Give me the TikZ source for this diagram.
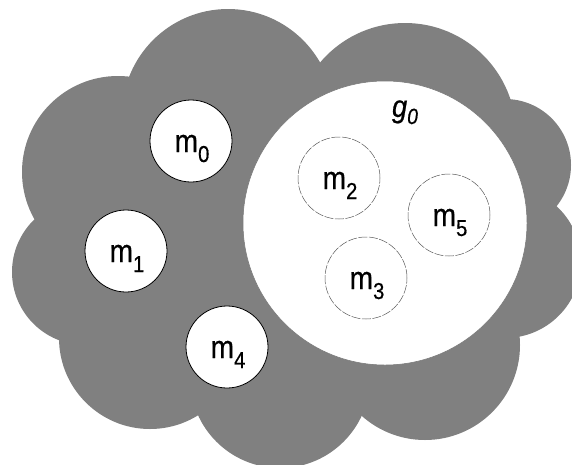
\documentclass[tikz,border=0pt]{standalone}
\usepackage{fontspec}
\newfontfamily\labfont[FakeStretch=0.88,FakeBold=0.6]{Liberation Sans}
\newcommand\mlab[1]{{\labfont\fontsize{32}{32}\selectfont m\lower 10pt\hbox{\fontsize{23}{23}\selectfont #1}}}
\newcommand\glab{{\labfont\fontsize{31}{31}\selectfont\itshape g\lower 7pt\hbox{\fontsize{22}{22}\selectfont 0}}}
\definecolor{cloudgray}{RGB}{128,128,128}
\tikzset{
  bump/.style={fill=cloudgray, draw=none},
  solidball/.style={circle, fill=white, draw=black, line width=0.8pt, minimum size=82pt, inner sep=0pt},
  dashball/.style={circle, fill=white, draw=black!65, line width=0.5pt, dash pattern=on 9pt off 1.5pt, minimum size=82pt, inner sep=0pt},
  bigball/.style={circle, fill=white, draw=black!55, line width=0.5pt, minimum size=284pt, inner sep=0pt},
  txt/.style={anchor=base, inner sep=0pt}
}
\begin{document}
\begin{tikzpicture}[x=1pt,y=-1pt]
\useasboundingbox (0,0) rectangle (572,464);
\clip (0,0) rectangle (572,464);
% cloud made of overlapping bumps
\fill[bump] (118,172) circle (96);
\fill[bump] (228,115) circle (106);
\fill[bump] (405,134) circle (111);
\fill[bump] (505,165) circle (66);
\fill[bump] (505,262) circle (76);
\fill[bump] (425,345) circle (95);
\fill[bump] (280,378) circle (90);
\fill[bump] (150,338) circle (91);
\fill[bump] (85,272) circle (73);
\fill[bump] (118,172) -- (228,115) -- (405,134) -- (505,165) -- (505,262) -- (425,345) -- (280,378) -- (150,338) -- (85,272) -- cycle;
% big group g0
\node[bigball] (g0) at (385,223) {};
\node[txt] (g0t) at (405,117) {\glab};
% members outside
\node[solidball] (m0) at (191,141) {};
\node[solidball] (m1) at (126,251) {};
\node[solidball] (m4) at (227,347) {};
% members inside
\node[dashball] (m2) at (339,178) {};
\node[dashball] (m5) at (449,215) {};
\node[dashball] (m3) at (366,278) {};
% labels
\node[txt] (m0t) at ([shift={(1,11)}]m0.center) {\mlab{0}};
\node[txt] (m1t) at ([shift={(1,11)}]m1.center) {\mlab{1}};
\node[txt] (m4t) at ([shift={(1,11)}]m4.center) {\mlab{4}};
\node[txt] (m2t) at ([shift={(1,11)}]m2.center) {\mlab{2}};
\node[txt] (m5t) at ([shift={(1,11)}]m5.center) {\mlab{5}};
\node[txt] (m3t) at ([shift={(1,11)}]m3.center) {\mlab{3}};
\end{tikzpicture}
\end{document}
